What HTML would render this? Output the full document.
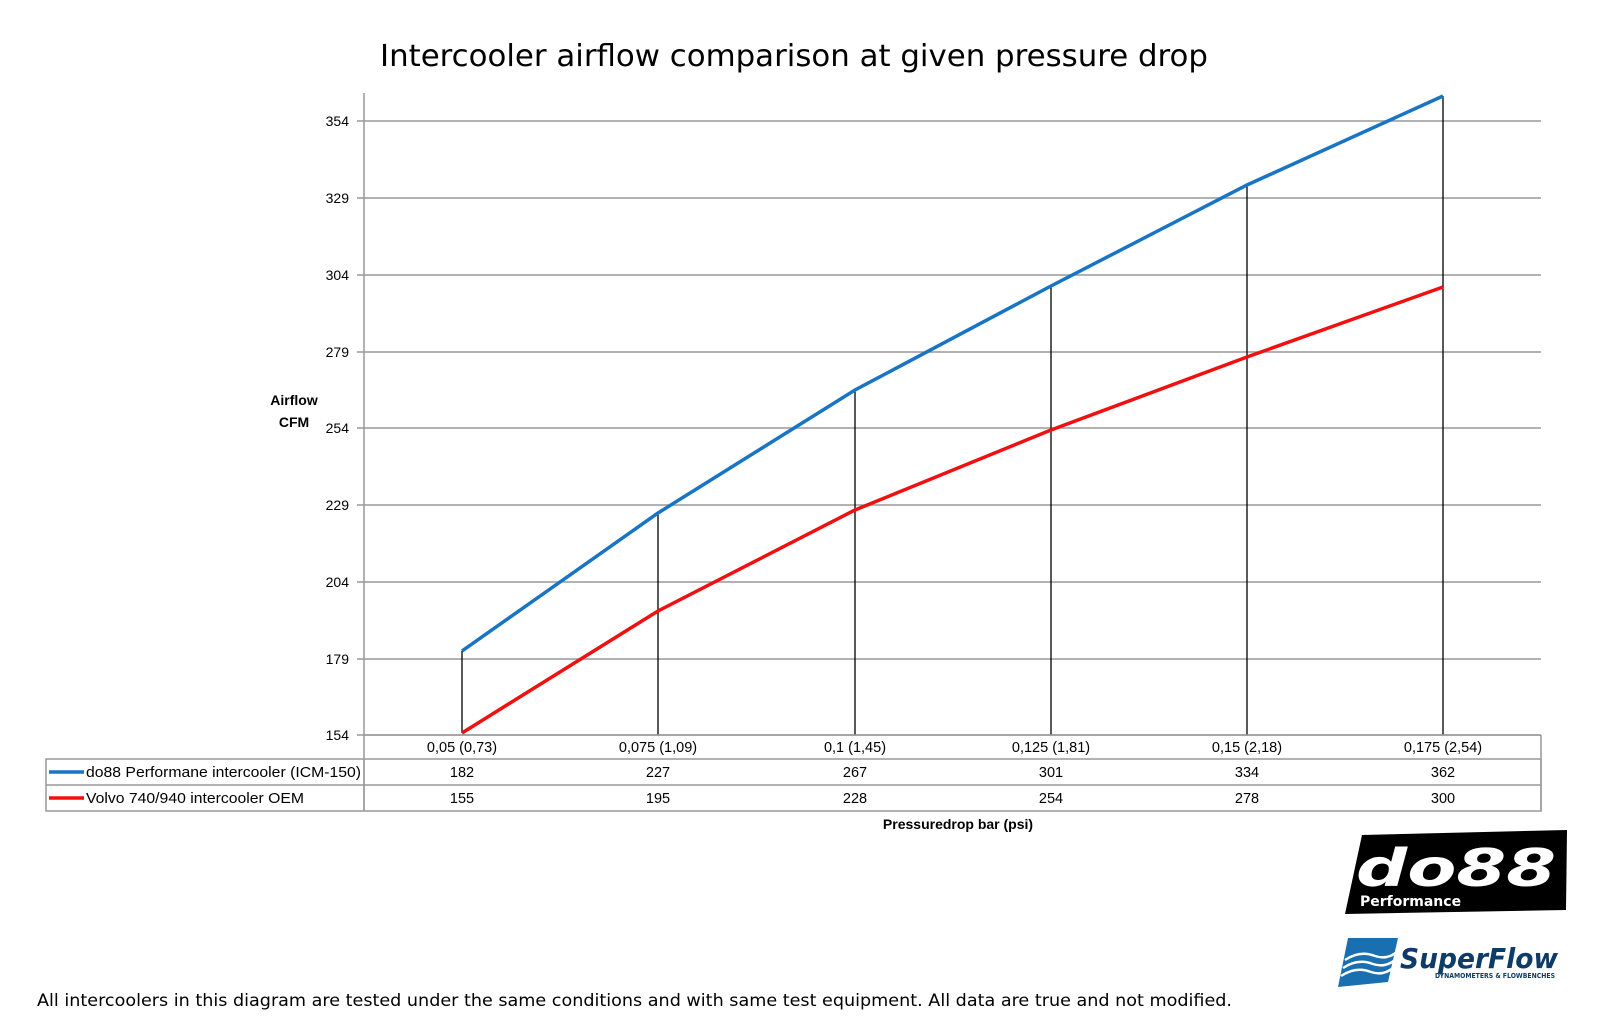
<!DOCTYPE html>
<html><head><meta charset="utf-8"><style>
html,body{margin:0;padding:0;background:#fff;width:1600px;height:1028px;overflow:hidden}
svg{display:block}
</style></head><body>
<svg width="1600" height="1028" viewBox="0 0 1600 1028" xmlns="http://www.w3.org/2000/svg">
<text x="380" y="66" font-family="DejaVu Sans, sans-serif" font-size="30" fill="#000" textLength="828" lengthAdjust="spacingAndGlyphs">Intercooler airflow comparison at given pressure drop</text>
<g stroke="#999" stroke-width="1.5">
<line x1="357" y1="121" x2="1541" y2="121"/>
<line x1="357" y1="198" x2="1541" y2="198"/>
<line x1="357" y1="275" x2="1541" y2="275"/>
<line x1="357" y1="352" x2="1541" y2="352"/>
<line x1="357" y1="428" x2="1541" y2="428"/>
<line x1="357" y1="505" x2="1541" y2="505"/>
<line x1="357" y1="582" x2="1541" y2="582"/>
<line x1="357" y1="659" x2="1541" y2="659"/>
<line x1="357" y1="735" x2="1541" y2="735"/>
<line x1="364" y1="93" x2="364" y2="811"/>
</g>
<g font-family="Liberation Sans, sans-serif" font-size="14" fill="#000" text-anchor="end">
<text x="349" y="126">354</text><text x="349" y="203">329</text><text x="349" y="280">304</text>
<text x="349" y="357">279</text><text x="349" y="433">254</text><text x="349" y="510">229</text>
<text x="349" y="587">204</text><text x="349" y="664">179</text><text x="349" y="740">154</text>
</g>
<g font-family="Liberation Sans, sans-serif" font-size="14" font-weight="bold" text-anchor="middle">
<text x="294" y="405">Airflow</text><text x="294" y="427">CFM</text>
<text x="958" y="829">Pressuredrop bar (psi)</text>
</g>
<g stroke="#000" stroke-width="1.3">
<line x1="462" y1="651" x2="462" y2="733"/>
<line x1="658" y1="513" x2="658" y2="735"/>
<line x1="855" y1="390" x2="855" y2="735"/>
<line x1="1051" y1="286" x2="1051" y2="735"/>
<line x1="1247" y1="185" x2="1247" y2="735"/>
<line x1="1443" y1="96" x2="1443" y2="735"/>
</g>
<polyline fill="none" stroke="#1874c5" stroke-width="3.5" points="462,651 658,513 855,390 1051,286 1247,185 1443,96"/>
<polyline fill="none" stroke="#f01010" stroke-width="3.5" points="462,733 658,611 855,510 1051,430 1247,357 1443,287"/>
<g stroke="#999" stroke-width="1.5" fill="none">
<line x1="364" y1="735" x2="1541" y2="735"/>
<line x1="1541" y1="735" x2="1541" y2="811"/>
<rect x="46" y="759" width="1495" height="52"/>
<line x1="46" y1="785" x2="1541" y2="785"/>
<line x1="364" y1="759" x2="364" y2="811"/>
</g>
<line x1="49" y1="772" x2="84" y2="772" stroke="#1874c5" stroke-width="3.5"/>
<line x1="49" y1="798" x2="84" y2="798" stroke="#f01010" stroke-width="3.5"/>
<g font-family="Liberation Sans, sans-serif" font-size="15" fill="#000">
<text x="86" y="777" textLength="275" lengthAdjust="spacingAndGlyphs">do88 Performane intercooler (ICM-150)</text>
<text x="86" y="803" textLength="218" lengthAdjust="spacingAndGlyphs">Volvo 740/940 intercooler OEM</text>
</g>
<g font-family="Liberation Sans, sans-serif" font-size="14.5" fill="#000" text-anchor="middle">
<text x="462" y="752">0,05 (0,73)</text><text x="658" y="752">0,075 (1,09)</text><text x="855" y="752">0,1 (1,45)</text>
<text x="1051" y="752">0,125 (1,81)</text><text x="1247" y="752">0,15 (2,18)</text><text x="1443" y="752">0,175 (2,54)</text>
<text x="462" y="777">182</text><text x="658" y="777">227</text><text x="855" y="777">267</text>
<text x="1051" y="777">301</text><text x="1247" y="777">334</text><text x="1443" y="777">362</text>
<text x="462" y="803">155</text><text x="658" y="803">195</text><text x="855" y="803">228</text>
<text x="1051" y="803">254</text><text x="1247" y="803">278</text><text x="1443" y="803">300</text>
</g>
<polygon points="1362,835 1567,830 1566,910 1345,914" fill="#000"/>
<text x="1356" y="886" font-family="DejaVu Sans, sans-serif" font-weight="bold" font-style="italic" font-size="52" fill="#fff" textLength="200" lengthAdjust="spacingAndGlyphs">do88</text>
<text x="1360" y="906" font-family="DejaVu Sans, sans-serif" font-weight="bold" font-size="14" fill="#fff">Performance</text>
<path d="M1348,938 L1398,938 L1388,982 L1338,987 Z" fill="#1a6fb0"/>
<path d="M1345,960 q15,-10 30,-4 q12,4 22,-4 M1343,968 q15,-10 30,-4 q12,4 22,-4 M1341,976 q15,-10 30,-4 q12,4 22,-4" stroke="#fff" stroke-width="2.5" fill="none"/>
<text x="1400" y="968" font-family="DejaVu Sans, sans-serif" font-weight="bold" font-style="italic" font-size="28" fill="#0e3c66" textLength="158" lengthAdjust="spacingAndGlyphs">SuperFlow</text>
<text x="1435" y="978" font-family="DejaVu Sans, sans-serif" font-weight="bold" font-size="7" fill="#0e3c66" textLength="120" lengthAdjust="spacingAndGlyphs">DYNAMOMETERS &amp; FLOWBENCHES</text>
<text x="37" y="1006" font-family="DejaVu Sans, sans-serif" font-size="17" fill="#000" textLength="1195" lengthAdjust="spacingAndGlyphs">All intercoolers in this diagram are tested under the same conditions and with same test equipment. All data are true and not modified.</text>
</svg>
</body></html>
